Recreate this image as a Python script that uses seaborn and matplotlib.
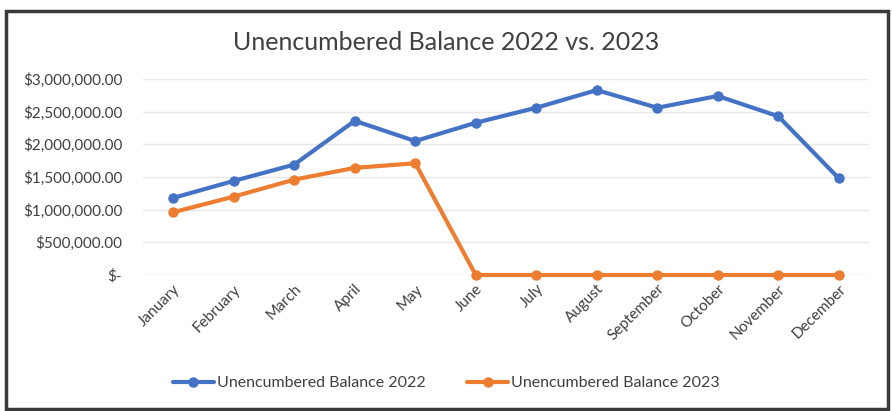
import matplotlib
matplotlib.use("Agg")
import matplotlib.pyplot as plt
from matplotlib.patches import Rectangle
from matplotlib.ticker import FuncFormatter
import seaborn as sns
import pandas as pd

months = ["January", "February", "March", "April", "May", "June", "July",
          "August", "September", "October", "November", "December"]
balance_2022 = [1180000, 1440000, 1690000, 2360000, 2050000, 2330000, 2560000,
                2830000, 2560000, 2740000, 2430000, 1480000]
balance_2023 = [960000, 1200000, 1460000, 1640000, 1710000, 0, 0,
                0, 0, 0, 0, 0]
series_names = ["Unencumbered Balance 2022", "Unencumbered Balance 2023"]
y_ticks = [0, 500000, 1000000, 1500000, 2000000, 2500000, 3000000]

df = pd.DataFrame({
    "Month": months * 2,
    "Balance": balance_2022 + balance_2023,
    "Series": [series_names[0]] * 12 + [series_names[1]] * 12,
})

sns.set_style("white")
plt.rcParams["font.family"] = ["Lato", "DejaVu Sans"]

fig = plt.figure(figsize=(8.92, 4.11), dpi=100)
ax = fig.add_axes([143 / 892, 1 - 275 / 411, (869 - 143) / 892, (275 - 79) / 411])

palette = {series_names[0]: "#4472C4", series_names[1]: "#ED7D31"}
sns.lineplot(data=df, x="Month", y="Balance", hue="Series", palette=palette,
             marker="o", markersize=7.5, markeredgewidth=0, linewidth=3,
             sort=False, ax=ax, legend=True)
for line in ax.lines:
    line.set_clip_on(False)

ax.set_xlim(-0.5, 11.5)
ax.set_ylim(0, 3000000)
ax.set_yticks(y_ticks)


def money(v, _pos):
    if v == 0:
        return "$-"
    return "${:,.2f}".format(v)


ax.yaxis.set_major_formatter(FuncFormatter(money))
ax.grid(axis="y", color="#E8E8E8", linewidth=1)
ax.grid(axis="x", visible=False)
for s in ax.spines.values():
    s.set_visible(False)
ax.set_xlabel("")
ax.set_ylabel("")
ax.tick_params(axis="y", length=0, pad=15, labelsize=11, labelcolor="#404040")
ax.tick_params(axis="x", length=0, pad=5, labelsize=11, labelcolor="#404040")
plt.setp(ax.get_xticklabels(), rotation=45, ha="right", rotation_mode="anchor")

fig.text(0.5, 1 - 42 / 411, "Unencumbered Balance 2022 vs. 2023",
         ha="center", va="center", fontsize=18, color="#404040")

handles, labels = ax.get_legend_handles_labels()
ax.legend_.remove()
fig.legend(handles, labels, loc="center", bbox_to_anchor=(0.5, 1 - 383 / 411),
           ncol=2, frameon=False, fontsize=11.5, handlelength=2.6,
           handletextpad=0.15, columnspacing=2.6, labelcolor="#404040")

fig.patches.append(Rectangle((6 / 892, 1 - 409 / 411), 882 / 892, 398 / 411,
                             transform=fig.transFigure, fill=False,
                             edgecolor="#3A3A3A", linewidth=2.5))

fig.savefig("out.png", dpi=100, facecolor="white")
